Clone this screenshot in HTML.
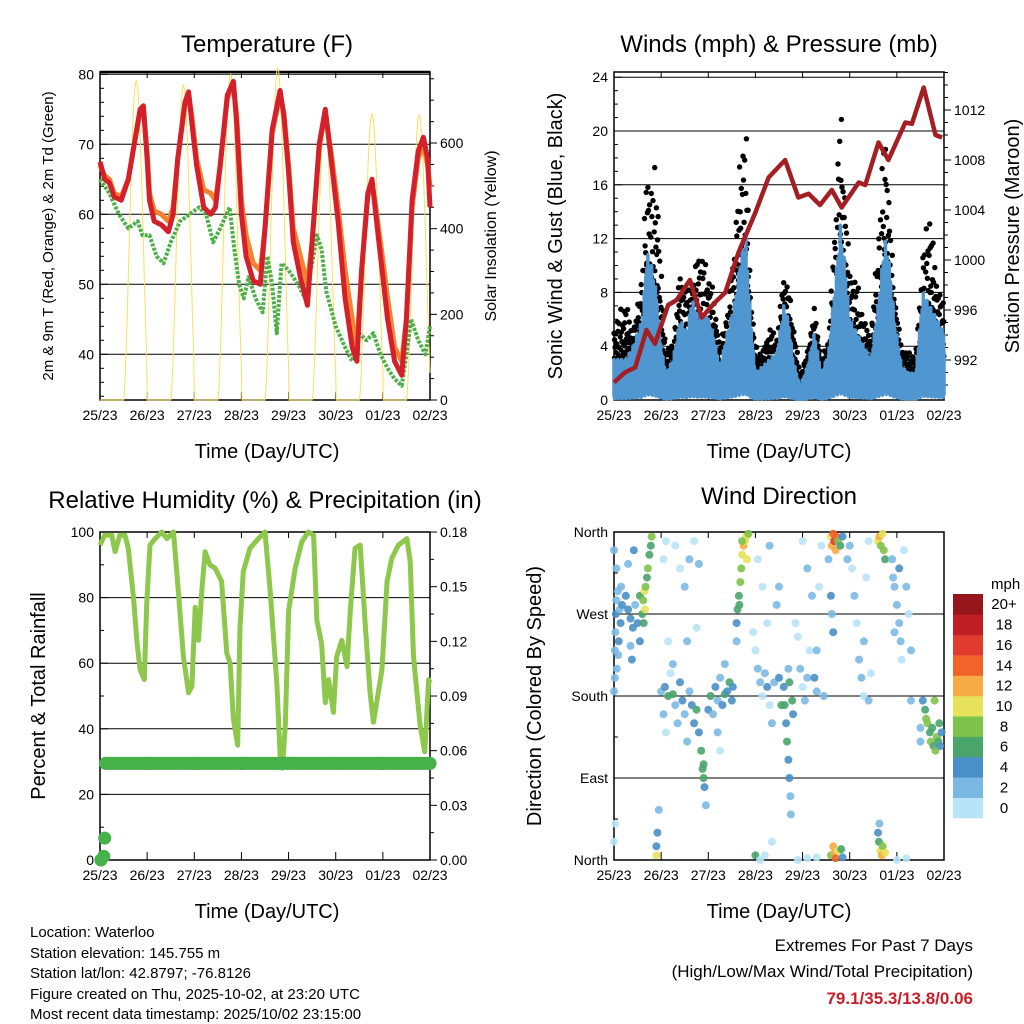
<!DOCTYPE html>
<html><head><meta charset="utf-8"><style>
html,body{margin:0;padding:0;background:#fff}
svg{display:block;font-family:"Liberation Sans",Arial,sans-serif}
</style></head><body>
<svg id="fig" width="1024" height="1024" viewBox="0 0 1024 1024" xmlns="http://www.w3.org/2000/svg">
<rect width="1024" height="1024" fill="#fff"/>
<text x="267" y="52" font-size="24" text-anchor="middle">Temperature (F)</text>
<text x="779" y="52" font-size="24" text-anchor="middle">Winds (mph) &amp; Pressure (mb)</text>
<text x="265" y="508" font-size="24" text-anchor="middle">Relative Humidity (%) &amp; Precipitation (in)</text>
<text x="779" y="504" font-size="24" text-anchor="middle">Wind Direction</text>
<text x="267" y="458" font-size="20" text-anchor="middle">Time (Day/UTC)</text>
<text x="779" y="458" font-size="20" text-anchor="middle">Time (Day/UTC)</text>
<text x="267" y="918" font-size="20" text-anchor="middle">Time (Day/UTC)</text>
<text x="779" y="918" font-size="20" text-anchor="middle">Time (Day/UTC)</text>
<text transform="translate(53,236) rotate(-90)" font-size="15" text-anchor="middle">2m &amp; 9m T (Red, Orange) &amp; 2m Td (Green)</text>
<text transform="translate(496,236) rotate(-90)" font-size="16" text-anchor="middle">Solar Insolation (Yellow)</text>
<text transform="translate(562,236) rotate(-90)" font-size="20" text-anchor="middle">Sonic Wind &amp; Gust (Blue, Black)</text>
<text transform="translate(1019,236) rotate(-90)" font-size="20" text-anchor="middle">Station Pressure (Maroon)</text>
<text transform="translate(45,696) rotate(-90)" font-size="20" text-anchor="middle">Percent &amp; Total Rainfall</text>
<text transform="translate(541,696) rotate(-90)" font-size="20" text-anchor="middle">Direction (Colored By Speed)</text>
<g font-size="15">
<text x="30" y="937">Location: Waterloo</text>
<text x="30" y="958">Station elevation: 145.755 m</text>
<text x="30" y="978">Station lat/lon: 42.8797; -76.8126</text>
<text x="30" y="999">Figure created on Thu, 2025-10-02, at 23:20 UTC</text>
<text x="30" y="1019">Most recent data timestamp: 2025/10/02 23:15:00</text>
</g>
<g text-anchor="end">
<text x="973" y="951" font-size="17">Extremes For Past 7 Days</text>
<text x="973" y="977" font-size="17">(High/Low/Max Wind/Total Precipitation)</text>
<text x="973" y="1004" font-size="17" font-weight="bold" fill="#c8202a">79.1/35.3/13.8/0.06</text>
</g>
</svg>
<script>
// ---------- data ----------
const dayLabels = ["25/23","26/23","27/23","28/23","29/23","30/23","01/23","02/23"];
const tDay = [0,0.1,0.2,0.3,0.45,0.6,0.75,0.85,0.92,1.0,1.05,1.15,1.3,1.45,1.55,1.65,1.8,1.88,1.95,2.05,2.2,2.35,2.45,2.55,2.7,2.83,2.9,3.0,3.1,3.25,3.4,3.5,3.65,3.82,3.9,4.0,4.1,4.25,4.4,4.5,4.65,4.78,4.9,5.05,5.2,5.35,5.45,5.55,5.68,5.77,5.85,5.95,6.1,6.25,6.4,6.5,6.62,6.75,6.86,6.95,7.0];
const tRed = [67.5,65,64.5,62.5,62,65,71,75,75.5,68,62,59,58.5,57.5,60,68,76,77.5,73,67,61,60,61,67,77,79,73,60,54,50.5,50,58,72,77.7,74,66,56,51,47,56,70,75,68,59,48,41,39,52,63,65,60,54,45,39,37,45,62,69,71,68,61];
const tOrange = [67,65.5,65,63,62.5,65,71,74.5,75,69,63,60.5,60,59,61,68,75.5,77,74,68,63.5,63,62,67,76.5,78.5,74,62,57,53,52,58,71.5,77,74.5,67,58,54,50,56,69.5,74.5,69,61,52,45,41,52,62.5,64.5,61,56,48,41,39,45,61,68,70,67,64];
const gDay = [0,0.2,0.4,0.6,0.8,0.9,1.05,1.2,1.35,1.5,1.7,1.9,2.1,2.25,2.4,2.55,2.75,2.85,2.95,3.05,3.15,3.3,3.45,3.55,3.65,3.75,3.85,4.0,4.2,4.35,4.5,4.6,4.7,4.8,5.0,5.2,5.35,5.5,5.65,5.8,5.95,6.1,6.25,6.4,6.5,6.6,6.75,6.9,7.0];
const gDew = [65,63,60,58,59,57,57,54,53,56,59,60,61,60,56,58,61,55,50,48,51,48,46,54,50,43,53,52,50,48,53,57,55,49,44,41,39,43,42,43,40,38,36.5,35.5,40,45,42,40,44];
const solarNoon = 0.77;
const solarPeak = [745,735,760,775,665,668,665];

const windDay = [0,0.25,0.4,0.5,0.6,0.7,0.8,0.9,1.0,1.1,1.25,1.4,1.55,1.65,1.8,1.95,2.1,2.25,2.4,2.55,2.7,2.8,2.9,3.0,3.15,3.3,3.45,3.6,3.7,3.8,3.95,4.1,4.25,4.4,4.55,4.7,4.8,4.9,5.0,5.15,5.3,5.45,5.6,5.75,5.85,5.95,6.1,6.25,6.4,6.55,6.7,6.85,7.0];
const windTop = [3,3,4,5,6,11,10,8,4,2,3,6,5,7.6,6,6.5,5,2.5,5,7,11,12,6,2,2.5,3,3.5,7,6,3,1,2.5,5,2,3.5,9,13,10,6,5,4,3,7,12,10,6,2.5,2,2,8,7,6,5];
const gustTop = [5.6,7.6,5,7,10,18,16,18,10,4,4,9.8,8,8.5,11.7,10,8.5,4,6.5,12,19,21,8,4,3.5,5.6,4.5,9.5,8.5,6,2,3.5,7,3,4.5,14.3,22.4,16,10,9,6,5,12,21.7,14,8,4,3.5,3.5,11,14.5,9,7];
const presDay = [0,0.23,0.45,0.69,0.87,1.15,1.33,1.61,1.86,2.14,2.36,2.64,3.0,3.28,3.63,3.91,4.13,4.37,4.62,4.83,5.19,5.33,5.61,5.82,6.18,6.32,6.57,6.82,6.96];
const presVal = [990.2,991,991.4,994.4,993.3,996.4,996.8,998.4,995.4,996.6,997.4,1000.6,1003.8,1006.6,1008,1005,1005.3,1004.4,1005.6,1004.2,1006.2,1006,1009.4,1008,1011,1010.9,1013.8,1010,1009.8];

const rhDay = [0,0.1,0.25,0.32,0.42,0.53,0.6,0.71,0.78,0.85,0.94,0.99,1.06,1.17,1.31,1.42,1.56,1.66,1.77,1.88,1.95,2.02,2.09,2.16,2.23,2.33,2.44,2.58,2.69,2.76,2.83,2.92,2.97,3.04,3.18,3.36,3.5,3.61,3.75,3.82,3.87,3.93,4.0,4.14,4.28,4.42,4.53,4.6,4.7,4.78,4.85,4.95,5.02,5.13,5.24,5.31,5.41,5.52,5.63,5.73,5.8,5.87,5.98,6.09,6.19,6.33,6.51,6.58,6.65,6.79,6.89,6.97,7.0];
const rhVal = [96,99,99,94,99,99,95,80,67,58,55,78,96,98,100,98,100,82,62,51,53,77,67,82,94,90,89,85,63,60,43,35,71,88,95,98,100,82,54,32,28,41,76,89,97,100,99,73,66,48,55,45,62,67,59,76,95,96,71,51,42,48,58,85,92,96,98,91,62,41,33,55,54];
const precipDay = [0.02,0.08,0.1,0.12,1,2,3,4,5,6,7.0];
const precipVal = [0,0.002,0.012,0.053,0.053,0.053,0.053,0.053,0.053,0.053,0.053];

const dirDay = [], dirDeg = [], dirSpd = [];
const dirPts = [
[0.02,230,3],[0.03,250,2],[0.04,270,4],[0.05,285,2],[0.06,210,3],[0.08,295,3],[0.1,240,4],[0.12,275,2],[0.14,260,4],[0.02,200,2],[0.09,225,3],[0.15,300,3],[0.17,280,4],[0.05,320,2],[0.0,340,3],[0.0,185,2],
[0.3,275,4],[0.35,265,5],[0.4,255,4],[0.45,280,3],[0.5,260,5],[0.55,240,4],[0.55,290,6],[0.6,270,7],[0.62,285,8],[0.65,295,10],[0.67,300,9],[0.7,310,7],[0.72,320,8],[0.75,335,6],[0.78,345,7],[0.8,355,9],[0.66,275,10],[0.63,260,6],[0.35,235,3],[0.38,220,4],[0.25,290,4],[0.3,325,3],[0.42,340,4],
[0.0,20,1],[0.03,40,1],[0.9,5,10],[0.92,30,4],[0.95,55,2],[0.9,15,4],
[1.05,330,1],[1.1,350,0],[1.15,240,1],[1.2,205,1],[1.25,215,2],[1.3,345,1],[1.4,320,1],[1.5,300,2],[1.55,240,3],[1.6,330,2],[1.75,255,1],[1.7,350,1],[1.8,325,3],
[1.0,185,3],[1.05,160,2],[1.08,190,4],[1.1,140,1],[1.15,180,6],[1.25,182,7],[1.3,170,3],[1.35,150,2],[1.4,195,4],[1.45,175,5],[1.5,160,2],[1.55,130,2],[1.6,185,3],[1.65,170,5],[1.7,150,4],[1.75,165,6],[1.8,140,5],[1.85,120,6],[1.88,100,7],[1.9,90,6],[1.92,80,4],[1.9,105,7],[1.95,60,3],[2.0,165,4],[2.05,180,6],[2.1,160,3],[2.15,190,4],[2.2,175,2],[2.25,200,3],[2.3,170,5],[2.35,182,7],[2.4,185,4],[2.45,195,6],[2.5,175,5],[2.52,190,4],[2.2,140,2],[2.25,120,1],[2.35,215,3],
[2.62,275,7],[2.65,290,7],[2.68,305,8],[2.7,320,9],[2.72,335,10],[2.75,345,12],[2.78,350,11],[2.8,355,10],[2.82,330,11],[2.85,358,9],[2.72,350,8],[2.66,280,6],[2.6,260,4],[2.6,240,3],
[2.95,250,1],[3.0,230,0],[3.05,210,2],[3.1,195,3],[3.15,180,1],[3.2,205,2],[3.25,190,4],[3.3,170,1],[3.35,150,2],[3.4,195,3],[3.05,330,1],[3.15,300,0],[3.25,260,1],[3.3,345,2],[3.45,280,3],[3.5,200,4],[3.55,170,6],[3.5,300,2],[3.0,5,6],[3.1,0,1],[3.2,5,1],[3.35,20,0],
[3.6,190,4],[3.62,170,6],[3.65,150,5],[3.67,130,7],[3.7,110,4],[3.72,90,4],[3.74,70,3],[3.75,50,3],[3.72,195,6],[3.78,175,7],[3.7,210,3],[3.8,160,5],
[3.85,260,1],[3.9,245,0],[3.95,210,2],[4.0,190,1],[4.05,175,3],[4.1,200,2],[4.15,230,1],[4.2,290,2],[4.25,200,4],[4.3,185,2],[4.35,300,1],[4.4,345,1],[4.45,180,3],[4.0,350,1],[4.1,320,2],[4.3,230,3],[3.9,0,1],[4.1,2,1],[4.3,3,0],
[4.6,355,10],[4.62,345,12],[4.65,358,14],[4.67,350,16],[4.7,340,12],[4.72,355,15],[4.75,350,9],[4.8,345,6],[4.85,355,5],[4.55,330,3],[4.6,290,4],[4.62,270,3],[4.65,250,4],[4.6,5,8],[4.65,15,13],[4.68,8,12],[4.7,2,15],[4.75,10,10],[4.82,12,7],[4.85,3,5],
[4.95,330,3],[5.0,345,2],[5.05,320,1],[5.1,290,2],[5.15,260,1],[5.2,220,2],[5.25,200,3],[5.3,180,1],[5.35,310,1],[5.4,350,0],[5.3,240,2],[5.45,205,1],[5.4,175,2],
[5.6,350,10],[5.63,355,12],[5.66,345,9],[5.7,358,11],[5.72,340,8],[5.75,330,6],[5.6,30,4],[5.62,20,6],[5.65,10,10],[5.68,5,12],[5.7,15,9],[5.75,8,11],[5.63,40,3],
[5.9,330,2],[5.92,310,3],[5.95,300,2],[6.0,280,3],[6.05,260,2],[6.08,240,3],[6.1,220,1],[6.15,340,1],[6.2,300,2],[6.25,270,1],[6.3,230,2],[5.95,250,3],[6.05,320,4],[6.3,175,2],[6.0,0,1],[6.2,2,1],
[6.55,175,4],[6.6,165,6],[6.62,155,8],[6.65,150,9],[6.7,140,7],[6.72,130,8],[6.75,145,6],[6.78,125,7],[6.82,120,8],[6.85,135,9],[6.88,130,6],[6.9,150,7],[6.92,125,5],[6.95,140,4],[6.5,145,2],[6.5,130,3],[6.8,175,8]];
dirPts.forEach(p => { dirDay.push(p[0]); dirDeg.push(p[1]); dirSpd.push(p[2]); });
const speedLabels = ["0","2","4","6","8","10","12","14","16","18","20+"];
const speedColors = ["#b9e3f7","#7bb9e4","#4a8fc7","#49a56c","#7fc24a","#e6e25a","#f7ab45","#f06429","#e13a2e","#c11f26","#97161b"];

// ---------- helpers ----------
const NS = "http://www.w3.org/2000/svg";
const svg = document.getElementById("fig");
function mk(tag, attrs, parent) {
  const e = document.createElementNS(NS, tag);
  for (const k in attrs) e.setAttribute(k, attrs[k]);
  (parent || svg).appendChild(e);
  return e;
}
function grp(name) {
  const g = mk("g", {});
  
  
  return g;
}
const L = [100, 614], R = [430, 944];
function xs(col, d) { return L[col] + (R[col] - L[col]) * d / 7; }
function interp(xa, ya, x) {
  if (x <= xa[0]) return ya[0];
  for (let i = 1; i < xa.length; i++) if (x <= xa[i]) { const f = (x - xa[i-1]) / (xa[i] - xa[i-1]); return ya[i-1] + f * (ya[i] - ya[i-1]); }
  return ya[ya.length - 1];
}
function pts(xa, ya, fx, fy) { return xa.map((d, i) => fx(d).toFixed(1) + "," + fy(ya[i]).toFixed(1)).join(" "); }

const yT = v => 354.3 - (v - 40) * 7.0;
const ySol = v => 400 - v * 0.4283;
const yW = v => 400 - v * 13.45;
const yP = v => 360 - (v - 992) * 12.5;
const yRH = v => 860 - v * 3.28;
const yPr = v => 860 - v * 1822;
const yDir = v => 860 - v * 328 / 360;

function frame(col, top, bottom, name, gridYs) {
  const g = grp(name);
  gridYs.forEach(y => {
    const ln = mk("line", {x1: L[col], x2: R[col], y1: y, y2: y, stroke: "#000", "stroke-width": 1}, g);
    
    
  });
  dayLabels.forEach((lab, i) => {
    const x = xs(col, i);
    mk("line", {x1: x, x2: x, y1: bottom, y2: bottom - 8, stroke: "#000"}, g);
    mk("line", {x1: x, x2: x, y1: top, y2: top + 6, stroke: "#000"}, g);
    const t = mk("text", {x: x, y: bottom + 20, "font-size": 14, "text-anchor": "middle"}, g);
    
    
    t.textContent = lab;
  });
  return g;
}
function leftTicks(g, x, vals, fy, fmt, minorVals) {
  vals.forEach(v => {
    const y = fy(v);
    mk("line", {x1: x, x2: x + 8, y1: y, y2: y, stroke: "#000"}, g);
    const t = mk("text", {x: x - 6, y: y + 5, "font-size": 14, "text-anchor": "end"}, g);
    
    
    t.textContent = fmt(v);
  });
  (minorVals || []).forEach(v => { const y = fy(v); mk("line", {x1: x, x2: x + 4, y1: y, y2: y, stroke: "#000"}, g); });
}
function rightTicks(g, x, vals, fy, fmt, minorVals) {
  vals.forEach(v => {
    const y = fy(v);
    mk("line", {x1: x, x2: x + 7, y1: y, y2: y, stroke: "#000"}, g);
    const t = mk("text", {x: x + 10, y: y + 5, "font-size": 14, "text-anchor": "start"}, g);
    
    
    t.textContent = fmt(v);
  });
  (minorVals || []).forEach(v => { const y = fy(v); mk("line", {x1: x, x2: x + 4, y1: y, y2: y, stroke: "#000"}, g); });
}

// ===== Panel 1 =====
const g1 = frame(0, 72, 400, "temperature-axes", [40,50,60,70,80].map(yT));
leftTicks(g1, 100, [40,50,60,70,80], yT, v => v, [34,36,38,42,44,46,48,52,54,56,58,62,64,66,68,72,74,76,78]);
rightTicks(g1, 430, [0,200,400,600], ySol, v => v, [50,100,150,250,300,350,450,500,550,650,700,750]);
const gs = grp("solar-insolation-line");
{
  const arr = [];
  for (let d = 0; d <= 7.0001; d += 0.01) {
    const day = Math.floor(Math.min(d, 6.999));
    const ph = (d - day - solarNoon) / 0.27;
    const v = Math.abs(ph) < 1 ? solarPeak[day] * Math.pow(Math.cos(ph * Math.PI / 2), 1.6) : 0;
    arr.push(xs(0, d).toFixed(1) + "," + ySol(v).toFixed(1));
  }
  const p = mk("polyline", {points: arr.join(" "), fill: "none", stroke: "#f7e15a", "stroke-width": 1}, gs);
  
  
}
const gDewG = grp("dewpoint-series");
{
  const p = mk("polyline", {points: pts(gDay, gDew, d => xs(0, d), yT), fill: "none", stroke: "#4cb047", "stroke-width": 4, "stroke-linejoin": "round", "stroke-dasharray": "3 1.5"}, gDewG);
  
  
}
const gOr = grp("temp-9m-series");
{
  const p = mk("polyline", {points: pts(tDay, tOrange, d => xs(0, d), yT), fill: "none", stroke: "#f5822e", "stroke-width": 5, "stroke-linejoin": "round"}, gOr);
  
  
}
const gRd = grp("temp-2m-series");
{
  const p = mk("polyline", {points: pts(tDay, tRed, d => xs(0, d), yT), fill: "none", stroke: "#d4202a", "stroke-width": 5, "stroke-linejoin": "round"}, gRd);
  
  
}
mk("rect", {x: 100, y: 72, width: 330, height: 328, fill: "none", stroke: "#000", "stroke-width": 1.5}, g1);
mk("line", {x1: 100, x2: 430, y1: 72, y2: 72, stroke: "#000", "stroke-width": 2.5}, g1);

// ===== Panel 2 =====
const g2 = frame(1, 72, 400, "winds-axes", [4,8,12,16,20,24].map(yW));
leftTicks(g2, 614, [0,4,8,12,16,20,24], yW, v => v, [1,2,3,5,6,7,9,10,11,13,14,15,17,18,19,21,22,23]);
rightTicks(g2, 944, [992,996,1000,1004,1008,1012], yP, v => v, [990,991,993,994,995,997,998,999,1001,1002,1003,1005,1006,1007,1009,1010,1011,1013,1014,1015]);
const gG = grp("gust-dots");
{
  const fr = [1.0, 0.7, 0.45, 0.85, 0.2, 0.6];
  let k = 0;
  for (let d = 0; d <= 7.0001; d += 0.012) {
    const wt = interp(windDay, windTop, d), gt = interp(windDay, gustTop, d);
    const f = fr[k % fr.length] * (0.8 + 0.2 * ((k * 7) % 5) / 4);
    const c = mk("circle", {cx: xs(1, d).toFixed(1), cy: yW(wt * 0.8 + (gt - wt * 0.8) * f).toFixed(1), r: 2.7, fill: "#000"}, gG);
    
    
    const c2 = mk("circle", {cx: xs(1, d + 0.006).toFixed(1), cy: yW(wt * 0.6 + (gt - wt) * fr[(k + 3) % fr.length] * 0.6).toFixed(1), r: 2.5, fill: "#000"}, gG);
    
    
    k++;
  }
}
const gWd = grp("wind-series");
{
  const jag = [1.0, 0.55, 0.85, 0.4, 0.95, 0.7, 0.3, 0.9, 0.6, 0.8];
  let k = 0;
  for (let d = 0; d <= 7.0001; d += 0.008) {
    const wt = interp(windDay, windTop, d);
    const hi = wt * jag[k % jag.length];
    const lo = wt * 0.12 * jag[(k + 4) % jag.length];
    const ln = mk("line", {x1: xs(1, d).toFixed(1), x2: xs(1, d).toFixed(1), y1: yW(lo).toFixed(1), y2: yW(hi).toFixed(1), stroke: "#5096d0", "stroke-width": 3.5, "stroke-linecap": "round"}, gWd);
    
    
    k++;
  }
}
const gPr = grp("pressure-series");
{
  const p = mk("polyline", {points: pts(presDay, presVal, d => xs(1, d), yP), fill: "none", stroke: "#a31f24", "stroke-width": 4.5, "stroke-linejoin": "round"}, gPr);
  
  
}
mk("rect", {x: 614, y: 72, width: 330, height: 328, fill: "none", stroke: "#000", "stroke-width": 1.5}, g2);

// ===== Panel 3 =====
const g3 = frame(0, 532, 860, "humidity-axes", [20,40,60,80,100].map(yRH));
leftTicks(g3, 100, [0,20,40,60,80,100], yRH, v => v, [10,30,50,70,90]);
rightTicks(g3, 430, [0,0.03,0.06,0.09,0.12,0.15,0.18], yPr, v => v.toFixed(2), [0.015,0.045,0.075,0.105,0.135,0.165]);
const gRH = grp("rh-series");
{
  const p = mk("polyline", {points: pts(rhDay, rhVal, d => xs(0, d), yRH), fill: "none", stroke: "#8dc74b", "stroke-width": 5, "stroke-linejoin": "round"}, gRH);
  
  
}
const gPc = grp("precip-series");
{
  for (let i = 1; i < precipDay.length; i++) {
    if (precipVal[i] === precipVal[i-1]) {
      const ln = mk("line", {x1: xs(0, precipDay[i-1]), x2: xs(0, precipDay[i]), y1: yPr(precipVal[i]), y2: yPr(precipVal[i]), stroke: "#46b049", "stroke-width": 13, "stroke-linecap": "round"}, gPc);
      
      
    }
  }
  precipDay.forEach((d, i) => {
    const c = mk("circle", {cx: xs(0, d), cy: yPr(precipVal[i]), r: 6.5, fill: "#46b049"}, gPc);
    
    
  });
}
mk("rect", {x: 100, y: 532, width: 330, height: 328, fill: "none", stroke: "#000", "stroke-width": 1.5}, g3);

// ===== Panel 4 =====
const g4 = frame(1, 532, 860, "direction-axes", [90,180,270,360].map(yDir));
leftTicks(g4, 614, [0,90,180,270,360], yDir, v => ["North","East","South","West","North"][v / 90], [45,135,225,315]);
const gDir = grp("direction-points");
dirDay.forEach((d, i) => {
  const ci = Math.min(10, Math.floor(dirSpd[i] / 2));
  const c = mk("circle", {cx: xs(1, d).toFixed(1), cy: yDir(dirDeg[i]).toFixed(1), r: 4, fill: speedColors[ci], "fill-opacity": 0.9}, gDir);
  
  
});
mk("rect", {x: 614, y: 532, width: 330, height: 328, fill: "none", stroke: "#000", "stroke-width": 1.5}, g4);

const gCb = grp("speed-colorbar");
{
  const t = mk("text", {x: 991, y: 589, "font-size": 15}, gCb);
  
  
  t.textContent = "mph";
  const h = 224 / 11;
  speedLabels.forEach((lab, i) => {
    const y0 = 818 - (i + 1) * h;
    const r = mk("rect", {x: 953, y: y0.toFixed(1), width: 30, height: (h + 0.3).toFixed(1), fill: speedColors[i]}, gCb);
    
    
    const tl = mk("text", {x: 1004, y: (y0 + h / 2 + 5).toFixed(1), "font-size": 15, "text-anchor": "middle"}, gCb);
    
    
    tl.textContent = lab;
  });
}
</script>
</body></html>
